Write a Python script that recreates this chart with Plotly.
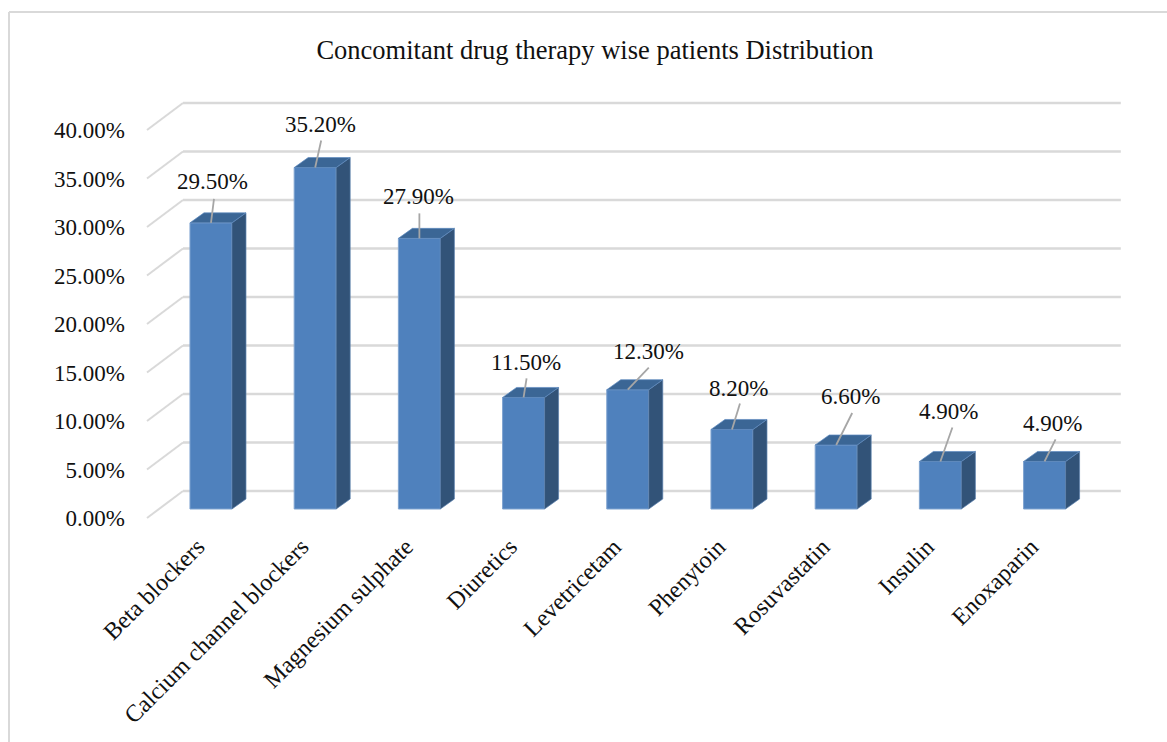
import plotly.graph_objects as go

categories = ["Beta blockers", "Calcium channel blockers", "Magnesium sulphate", "Diuretics",
              "Levetricetam", "Phenytoin", "Rosuvastatin", "Insulin", "Enoxaparin"]
values = [29.5, 35.2, 27.9, 11.5, 12.3, 8.2, 6.6, 4.9, 4.9]
value_labels = ["29.50%", "35.20%", "27.90%", "11.50%", "12.30%", "8.20%", "6.60%", "4.90%", "4.90%"]
y_ticks = [0, 5, 10, 15, 20, 25, 30, 35, 40]
y_tick_labels = ["0.00%", "5.00%", "10.00%", "15.00%", "20.00%", "25.00%", "30.00%", "35.00%", "40.00%"]
title = "Concomitant drug therapy wise patients Distribution"

# pixel offsets of each data label, and of its leader line's end, from the top of its bar
label_dx = [2, 5, -1, 2.5, 21, 7, 14, 8, 8]
label_dy = [-41, -43, -42, -35, -38, -41, -48, -50, -38]
leader_dx = [3, 6, 0, 3, 21, 8, 16, 12, 11]
leader_dy = [-24, -27, -25, -19, -22, -26, -32, -34, -22]

W, H = 1167, 742
L, R, T, B = 126, 1130, 95, 525
X0_PX, Y0_PX = 147, 518          # front-left floor corner
PX_PER_CAT, PX_PER_PCT = 104.2, 9.7
FONT = "Liberation Serif"
GRID = "#D9D9D9"

# depth of the chart box and of the bars, in axis units
wall_dx, wall_dy = 36 / PX_PER_CAT, 27 / PX_PER_PCT
bar_dx, bar_dy = 14 / PX_PER_CAT, 10 / PX_PER_PCT
bar_shift_x, bar_shift_y = 0.614, 9 / PX_PER_PCT
bar_w = 42 / PX_PER_CAT
n = len(categories)

fig = go.Figure()
centers = [i + bar_shift_x for i in range(n)]
fig.add_trace(go.Bar(x=centers, y=values, base=[bar_shift_y] * n, width=bar_w,
                     marker=dict(color="#4F81BD", line=dict(color="#7FA3D0", width=1)),
                     hoverinfo="skip", showlegend=False))

for c, v in zip(centers, values):
    xl, xr, yb, yt = c - bar_w / 2, c + bar_w / 2, bar_shift_y, bar_shift_y + v
    fig.add_trace(go.Scatter(x=[xr, xr + bar_dx, xr + bar_dx, xr, xr],
                             y=[yb, yb + bar_dy, yt + bar_dy, yt, yb],
                             fill="toself", fillcolor="#325378", mode="lines",
                             line=dict(color="#5A7FAE", width=0.7), hoverinfo="skip", showlegend=False))
    fig.add_trace(go.Scatter(x=[xl, xl + bar_dx, xr + bar_dx, xr, xl],
                             y=[yt, yt + bar_dy, yt + bar_dy, yt, yt],
                             fill="toself", fillcolor="#3B6695", mode="lines",
                             line=dict(color="#5F8BC0", width=0.7), hoverinfo="skip", showlegend=False))

# leader lines from each bar top towards its label
lead_x, lead_y = [], []
for c, v, dx, dy in zip(centers, values, leader_dx, leader_dy):
    lead_x += [c, c + dx / PX_PER_CAT, None]
    lead_y += [v + bar_shift_y, v + bar_shift_y - dy / PX_PER_PCT, None]
fig.add_trace(go.Scatter(x=lead_x, y=lead_y, mode="lines", line=dict(color="#A6A6A6", width=1.8),
                         hoverinfo="skip", showlegend=False))

shapes = []
for t in y_ticks:
    shapes.append(dict(type="line", xref="x", yref="y", layer="below", x0=0, y0=t,
                       x1=wall_dx, y1=t + wall_dy, line=dict(color=GRID, width=2)))
    shapes.append(dict(type="line", xref="x", yref="y", layer="below", x0=wall_dx, y0=t + wall_dy,
                       x1=wall_dx + n, y1=t + wall_dy, line=dict(color=GRID, width=2.5)))

def paper_x(px): return (px - L) / (R - L)
def paper_y(px): return (B - px) / (B - T)

for x0, y0, x1, y1 in [(9, 12, 9, H), (9, 12, W, 12)]:
    shapes.append(dict(type="line", xref="paper", yref="paper", x0=paper_x(x0), y0=paper_y(y0),
                       x1=paper_x(x1), y1=paper_y(y1), line=dict(color=GRID, width=2)))

annotations = []
for c, v, txt, dx, dy in zip(centers, values, value_labels, label_dx, label_dy):
    annotations.append(dict(x=c, y=v + bar_shift_y, text=txt, showarrow=False,
                            xanchor="center", yanchor="middle", xshift=dx, yshift=-dy,
                            font=dict(family=FONT, size=23, color="#111111")))

fig.update_layout(
    width=W, height=H, autosize=False,
    margin=dict(l=L, r=W - R, t=T, b=H - B, pad=0),
    paper_bgcolor="white", plot_bgcolor="rgba(0,0,0,0)",
    font=dict(family=FONT, color="#111111"),
    title=dict(text=title, x=595 / W, xanchor="center", xref="container", y=1 - 50 / H, yanchor="middle",
               font=dict(family=FONT, size=26.5, color="#111111")),
    shapes=shapes, annotations=annotations, showlegend=False,
    xaxis=dict(range=[(L - X0_PX) / PX_PER_CAT, (R - X0_PX) / PX_PER_CAT],
               tickmode="array", tickvals=[i + 0.485 for i in range(n)], ticktext=categories,
               tickangle=-45, tickfont=dict(family=FONT, size=24, color="#111111"),
               ticklabelstandoff=2,
               showgrid=False, zeroline=False, showline=False, ticks=""),
    yaxis=dict(range=[(Y0_PX - B) / PX_PER_PCT, (Y0_PX - T) / PX_PER_PCT],
               tickmode="array", tickvals=y_ticks, ticktext=y_tick_labels,
               tickfont=dict(family=FONT, size=23, color="#111111"),
               showgrid=False, zeroline=False, showline=False, ticks=""),
)
fig.write_html("out.html", config={"displayModeBar": False},
               post_script="document.body.style.margin='0';document.documentElement.style.overflow='hidden';")
